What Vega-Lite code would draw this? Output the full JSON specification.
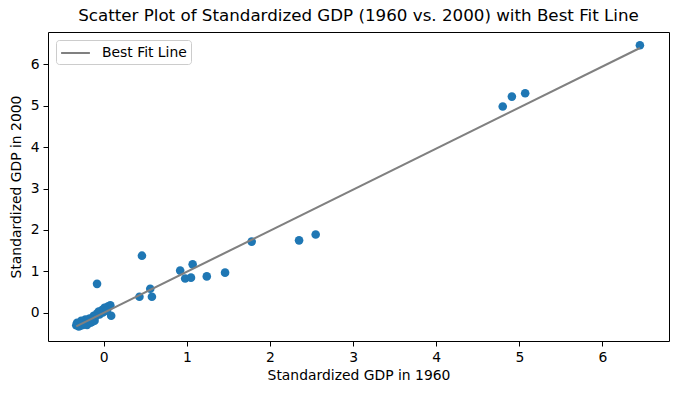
{
  "$schema": "https://vega.github.io/schema/vega-lite/v6.json",
  "width": 621,
  "height": 309,
  "autosize": {"type": "none"},
  "padding": {"left": 48, "top": 32, "right": 9, "bottom": 52},
  "background": "white",
  "config": {
    "font": "DejaVu Sans",
    "view": {"stroke": "black", "strokeWidth": 1},
    "axis": {
      "domain": false,
      "grid": false,
      "tickColor": "black",
      "tickSize": 5,
      "tickWidth": 1,
      "labelColor": "black",
      "labelFontSize": 13.9,
      "labelPadding": 4,
      "titleColor": "black",
      "titleFontSize": 13.9,
      "titleFontWeight": "normal",
      "labelFont": "DejaVu Sans",
      "titleFont": "DejaVu Sans"
    }
  },
  "title": {
    "text": "Scatter Plot of Standardized GDP (1960 vs. 2000) with Best Fit Line",
    "font": "DejaVu Sans",
    "fontSize": 16.7,
    "fontWeight": "normal",
    "color": "black",
    "anchor": "middle",
    "offset": 7
  },
  "datasets": {
    "points": [
      {"gdp1960": 6.45, "gdp2000": 6.46},
      {"gdp1960": 5.07, "gdp2000": 5.30},
      {"gdp1960": 4.91, "gdp2000": 5.22},
      {"gdp1960": 4.80, "gdp2000": 4.98},
      {"gdp1960": 2.55, "gdp2000": 1.89},
      {"gdp1960": 2.35, "gdp2000": 1.75},
      {"gdp1960": 1.78, "gdp2000": 1.72},
      {"gdp1960": 1.46, "gdp2000": 0.97},
      {"gdp1960": 1.24, "gdp2000": 0.88},
      {"gdp1960": 1.07, "gdp2000": 1.17},
      {"gdp1960": 0.92, "gdp2000": 1.02},
      {"gdp1960": 0.98, "gdp2000": 0.83},
      {"gdp1960": 1.05, "gdp2000": 0.85},
      {"gdp1960": 0.46, "gdp2000": 1.38},
      {"gdp1960": 0.56, "gdp2000": 0.58},
      {"gdp1960": 0.43, "gdp2000": 0.39},
      {"gdp1960": 0.58, "gdp2000": 0.39},
      {"gdp1960": -0.08, "gdp2000": 0.70},
      {"gdp1960": 0.08, "gdp2000": 0.18},
      {"gdp1960": 0.05, "gdp2000": 0.15},
      {"gdp1960": 0.01, "gdp2000": 0.12},
      {"gdp1960": -0.02, "gdp2000": 0.07},
      {"gdp1960": 0.09, "gdp2000": -0.07},
      {"gdp1960": -0.12, "gdp2000": -0.07},
      {"gdp1960": -0.01, "gdp2000": 0.01},
      {"gdp1960": 0.04, "gdp2000": 0.05},
      {"gdp1960": -0.05, "gdp2000": -0.04},
      {"gdp1960": -0.06, "gdp2000": 0.03},
      {"gdp1960": -0.08, "gdp2000": -0.02},
      {"gdp1960": -0.10, "gdp2000": -0.09},
      {"gdp1960": -0.11, "gdp2000": -0.19},
      {"gdp1960": -0.12, "gdp2000": -0.12},
      {"gdp1960": -0.15, "gdp2000": -0.16},
      {"gdp1960": -0.16, "gdp2000": -0.24},
      {"gdp1960": -0.17, "gdp2000": -0.14},
      {"gdp1960": -0.19, "gdp2000": -0.19},
      {"gdp1960": -0.21, "gdp2000": -0.26},
      {"gdp1960": -0.22, "gdp2000": -0.16},
      {"gdp1960": -0.24, "gdp2000": -0.21},
      {"gdp1960": -0.25, "gdp2000": -0.29},
      {"gdp1960": -0.27, "gdp2000": -0.19},
      {"gdp1960": -0.29, "gdp2000": -0.26},
      {"gdp1960": -0.30, "gdp2000": -0.33},
      {"gdp1960": -0.32, "gdp2000": -0.24},
      {"gdp1960": -0.33, "gdp2000": -0.30},
      {"gdp1960": -0.28, "gdp2000": -0.31},
      {"gdp1960": -0.20, "gdp2000": -0.29},
      {"gdp1960": -0.14, "gdp2000": -0.22},
      {"gdp1960": -0.31, "gdp2000": -0.28},
      {"gdp1960": -0.26, "gdp2000": -0.25}
    ],
    "fit": [
      {"gdp1960": -0.33, "gdp2000": -0.327},
      {"gdp1960": 6.45, "gdp2000": 6.395}
    ]
  },
  "layer": [
    {
      "data": {"name": "points"},
      "mark": {"type": "circle", "size": 74, "color": "#1f77b4", "opacity": 1},
      "encoding": {
        "x": {
          "field": "gdp1960",
          "type": "quantitative",
          "title": "Standardized GDP in 1960",
          "scale": {"domain": [-0.67, 6.80], "nice": false, "zero": false},
          "axis": {"values": [0, 1, 2, 3, 4, 5, 6], "format": "d", "titlePadding": 5}
        },
        "y": {
          "field": "gdp2000",
          "type": "quantitative",
          "title": "Standardized GDP in 2000",
          "scale": {"domain": [-0.68, 6.78], "nice": false, "zero": false},
          "axis": {"values": [0, 1, 2, 3, 4, 5, 6], "format": "d", "titlePadding": 7}
        }
      }
    },
    {
      "data": {"name": "fit"},
      "mark": {"type": "line", "strokeWidth": 2.1},
      "encoding": {
        "x": {"field": "gdp1960", "type": "quantitative"},
        "y": {"field": "gdp2000", "type": "quantitative"},
        "color": {
          "datum": "Best Fit Line",
          "type": "nominal",
          "scale": {"range": ["#808080"]},
          "legend": {
            "title": null,
            "orient": "none",
            "legendX": 8,
            "legendY": 8,
            "symbolType": "M-1.8,0H1.8",
            "symbolSize": 256,
            "symbolStrokeWidth": 2,
            "symbolOffset": 6.5,
            "labelFontSize": 13.9,
            "labelFont": "DejaVu Sans",
            "labelColor": "black",
            "labelOffset": 17.5,
            "padding": 4,
            "fillColor": "rgba(255,255,255,0.8)",
            "strokeColor": "#cccccc",
            "cornerRadius": 3
          }
        }
      }
    }
  ]
}
